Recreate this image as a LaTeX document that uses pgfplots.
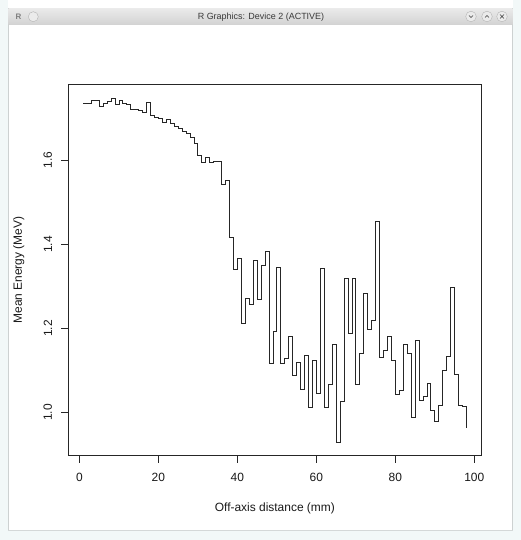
\documentclass[border=0pt]{standalone}
\usepackage{pgfplots}
\pgfplotsset{compat=1.18}
\usepackage{pgfplotstable}
\usepackage{fontspec}
\setmainfont{Liberation Sans}
\definecolor{titlebar}{HTML}{DCDCDC}
\definecolor{titlebar2}{HTML}{D2D2D2}
\definecolor{frameline}{HTML}{CDD1D1}
\definecolor{shadowc}{HTML}{F2F8F8}
\definecolor{titletext}{HTML}{3A3A3A}
\definecolor{btn}{HTML}{EBEBEB}
\definecolor{btnline}{HTML}{B4B4B4}

\pgfplotstableread{
x y
1 1.735
2 1.735
3 1.743
4 1.743
5 1.728
6 1.735
7 1.740
8 1.748
9 1.733
10 1.742
11 1.735
12 1.733
13 1.722
14 1.721
15 1.720
16 1.715
17 1.737
18 1.707
19 1.703
20 1.700
21 1.690
22 1.698
23 1.688
24 1.680
25 1.675
26 1.668
27 1.664
28 1.655
29 1.640
30 1.612
31 1.596
32 1.606
33 1.596
34 1.598
35 1.598
36 1.544
37 1.552
38 1.416
39 1.340
40 1.366
41 1.213
42 1.271
43 1.257
44 1.363
45 1.269
46 1.350
47 1.383
48 1.117
49 1.193
50 1.346
51 1.117
52 1.128
53 1.181
54 1.088
55 1.120
56 1.054
57 1.136
58 1.013
59 1.125
60 1.046
61 1.344
62 1.013
63 1.068
64 1.161
65 0.929
66 1.027
67 1.318
68 1.188
69 1.318
70 1.068
71 1.141
72 1.284
73 1.197
74 1.220
75 1.455
76 1.131
77 1.147
78 1.181
79 1.123
80 1.044
81 1.052
82 1.161
83 1.141
84 0.989
85 1.171
86 1.029
87 1.038
88 1.069
89 1.005
90 0.979
91 1.017
92 1.100
93 1.133
94 1.298
95 1.090
96 1.018
97 1.014
98 0.962
}\energy

\begin{document}
\begin{tikzpicture}[x=1bp,y=1bp]
\path[use as bounding box] (0,0) rectangle (521,540);
% outer background and window frame
\fill[white] (0,0) rectangle (521,540);
\fill[shadowc] (0,0) rectangle (8.3,540);
\fill[shadowc] (512.7,0) rectangle (521,540);
\fill[shadowc] (0,0) rectangle (521,9);
\fill[white] (8.3,10) rectangle (512.7,515);
\draw[frameline, line width=0.8] (8.3,10) rectangle (512.7,531.7);
\fill[frameline!85!white] (8.3,8.6) rectangle (512.7,10.2);
% title bar
\shade[top color=titlebar!60!white, bottom color=titlebar2] (8.7,515) rectangle (512.3,531.5);
\node[font=\fontsize{9}{10}\selectfont, text=titletext] at (261,523.3) {R Graphics: Device 2 (ACTIVE)};
% left icons
\node[font=\bfseries\fontsize{8}{9}\selectfont, text=gray] at (18.5,523.3) {R};
\fill[btn] (33.3,523.3) circle (5);
\draw[btnline, line width=0.4] (33.3,523.3) circle (5);
% right buttons
\foreach \bx in {471,487,502}{
  \fill[btn] (\bx,523.5) circle (5.3);
  \draw[btnline, line width=0.4] (\bx,523.5) circle (5.3);
}
\draw[titletext, line width=0.6] (469,524.5) -- (471,522.5) -- (473,524.5);
\draw[titletext, line width=0.6] (485,522.5) -- (487,524.5) -- (489,522.5);
\draw[titletext, line width=0.6] (500,521.5) -- (504,525.5) (500,525.5) -- (504,521.5);

\begin{axis}[
  at={(68bp,84.3bp)}, anchor=south west,
  scale only axis, width=413.7bp, height=371.4bp,
  xmin=-2.88, xmax=101.88, ymin=0.897, ymax=1.781,
  axis line style={black!85, line width=0.75bp},
  xtick={0,20,40,60,80,100},
  ytick={1.0,1.2,1.4,1.6},
  xtick pos=lower, ytick pos=left,
  tick align=outside, major tick length=7bp,
  tick style={black!85, line width=0.75bp},
  /pgf/number format/assume math mode=true,
  tick label style={font=\fontsize{12}{14}\selectfont, text=black!90},
  xticklabel style={anchor=north, inner sep=0pt},
  xticklabel shift=10bp,
  yticklabel style={rotate=90, anchor=south, inner sep=0pt,
    /pgf/number format/.cd, fixed, fixed zerofill, precision=1},
  yticklabel shift=8.7bp,
  xlabel={Off-axis distance (mm)},
  ylabel={Mean Energy (MeV)},
  label style={font=\fontsize{12}{14}\selectfont, text=black!90},
  xlabel style={at={(axis description cs:0.5,-0.1508)}, anchor=base, inner sep=0pt},
  ylabel style={at={(axis description cs:-0.1112,0.5)}, anchor=base, inner sep=0pt},
  clip=false,
]
\addplot[const plot mark left, black!85, line width=0.7bp] table[x=x, y=y] {\energy};
\end{axis}
\end{tikzpicture}
\end{document}
